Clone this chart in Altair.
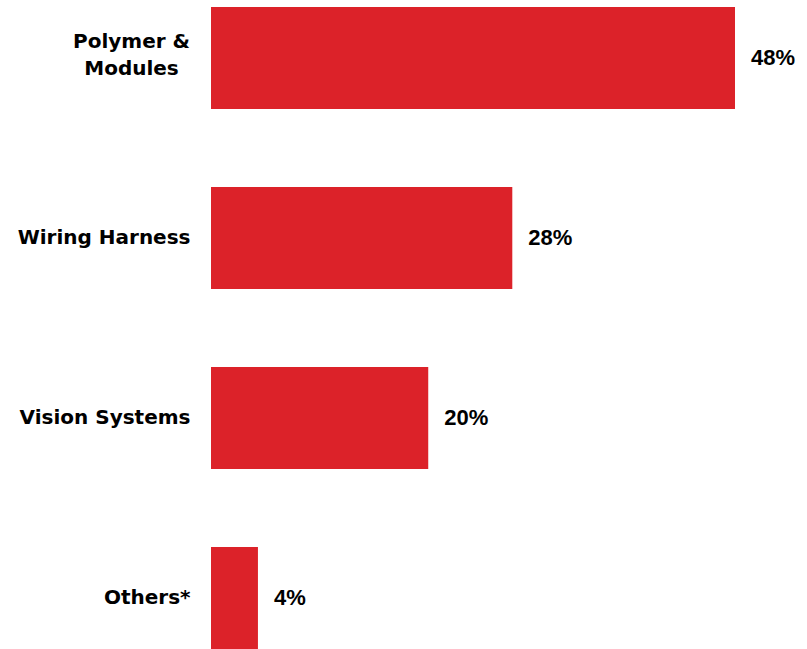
import altair as alt
import pandas as pd

categories = ["Polymer &\nModules", "Wiring Harness", "Vision Systems", "Others*"]
values = [48.0, 27.6, 19.9, 4.3]
labels = ["48%", "28%", "20%", "4%"]

df = pd.DataFrame({"category": categories, "value": values, "label": labels})

multi_test = "indexof(datum.value, '\\n') >= 0"

y_enc = alt.Y(
    "category:N",
    sort=categories,
    scale=alt.Scale(paddingInner=0.433, paddingOuter=0),
    axis=alt.Axis(
        title=None,
        ticks=False,
        domain=False,
        labelPadding={"condition": {"test": multi_test, "value": 80}, "value": 21},
        labelFont="DejaVu Sans",
        labelFontWeight="bold",
        labelFontSize=20,
        labelColor="#000000",
        labelLineHeight=27,
        labelAlign={"condition": {"test": multi_test, "value": "center"}, "value": "right"},
        labelBaseline="middle",
        labelOffset={"condition": {"test": multi_test, "value": -16}, "value": 0},
        labelExpr="split(datum.label, '\\n')",
        labelLimit=300,
    ),
)

x_enc = alt.X(
    "value:Q",
    scale=alt.Scale(domain=[0, 48], nice=False, zero=True),
    axis=None,
)

bars = alt.Chart(df).mark_bar(color="#DC2229").encode(x=x_enc, y=y_enc)

text = alt.Chart(df).mark_text(
    align="left",
    baseline="middle",
    dx=16,
    font="Liberation Sans",
    fontWeight="bold",
    fontSize=22,
    color="#000000",
).encode(x=x_enc, y=y_enc, text="label:N")

chart = (
    alt.layer(bars, text)
    .properties(
        width=524,
        height=642,
        padding={"left": 211, "top": 7, "right": 72, "bottom": 0},
        autosize=alt.AutoSizeParams(type="none"),
        background="#ffffff",
    )
    .configure_view(stroke=None)
)

chart.save("out.html", embed_options={"renderer": "svg", "actions": False})
